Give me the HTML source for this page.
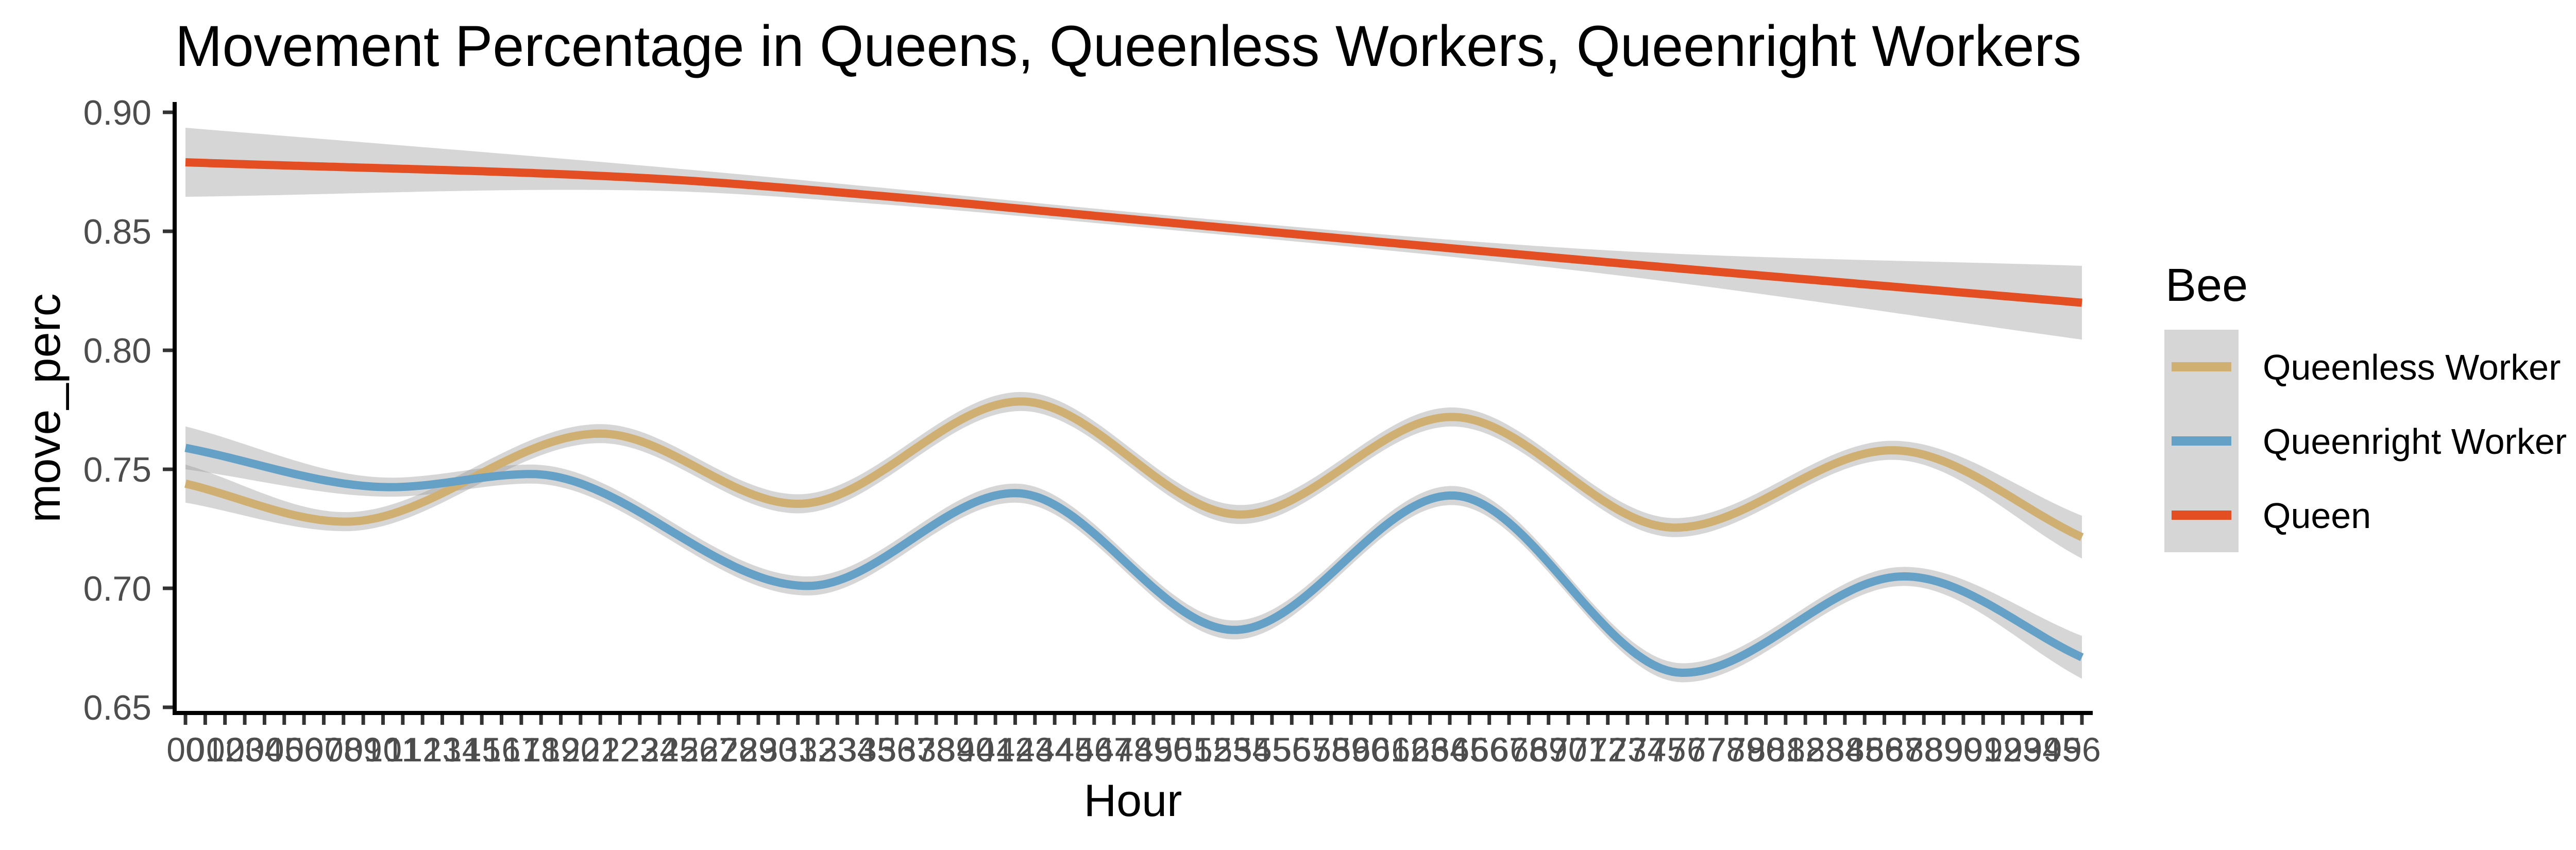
<!DOCTYPE html>
<html><head><meta charset="utf-8"><style>
html,body{margin:0;padding:0;background:#fff;}
svg{display:block;font-family:"Liberation Sans",Arial,sans-serif;}
</style></head><body>
<svg id="chart" width="5100" height="1650" viewBox="0 0 5100 1650" xmlns="http://www.w3.org/2000/svg">
<rect width="5100" height="1650" fill="#fff"/>
<text x="340" y="128" font-size="112" fill="#000" textLength="3700" lengthAdjust="spacingAndGlyphs">Movement Percentage in Queens, Queenless Workers, Queenright Workers</text>
<g id="ribbons"></g>
<g id="lines"></g>
<g id="yaxis"></g>
<g id="xaxis"></g>
<text transform="translate(116,792) rotate(-90)" text-anchor="middle" font-size="90" fill="#000">move_perc</text>
<text x="2199" y="1584" text-anchor="middle" font-size="88" fill="#000">Hour</text>
<g>
<text x="4203" y="584" font-size="90" fill="#000">Bee</text>
<rect x="4201" y="640" width="144" height="432" fill="#d6d6d6"/>
<rect x="4215" y="703" width="116" height="18" fill="#CFAF72"/>
<rect x="4215" y="847" width="116" height="18" fill="#65A0C7"/>
<rect x="4215" y="991" width="116" height="18" fill="#E44E23"/>
<text x="4392" y="737" font-size="70" fill="#000">Queenless Worker</text>
<text x="4392" y="881" font-size="70" fill="#000">Queenright Worker</text>
<text x="4392" y="1025" font-size="70" fill="#000">Queen</text>
</g>
</svg>
<script>
const yTicks = [0.65, 0.70, 0.75, 0.80, 0.85, 0.90];
const hourCount = 97;
const queenHours = [0, 24, 35, 48, 72, 96];
const queenValues = [0.879, 0.872, 0.865, 0.855, 0.837, 0.820];
const queenSE = [0.0145, 0.005, 0.0035, 0.003, 0.005, 0.0155];
const queenlessHours = [0, 8.1, 21, 31, 42.3, 53.4, 64.1, 75.4, 86.4, 96];
const queenlessValues = [0.744, 0.728, 0.765, 0.7355, 0.7785, 0.731, 0.772, 0.7255, 0.758, 0.7215];
const queenlessSE = [0.008, 0.004, 0.004, 0.004, 0.004, 0.004, 0.004, 0.004, 0.004, 0.009];
const queenrightHours = [0, 10.4, 17.5, 31.5, 42, 53.1, 64.1, 75.8, 87, 96];
const queenrightValues = [0.759, 0.7425, 0.748, 0.701, 0.740, 0.6825, 0.739, 0.6645, 0.705, 0.671];
const queenrightSE = [0.009, 0.004, 0.004, 0.004, 0.004, 0.004, 0.004, 0.004, 0.004, 0.009];

const NS = "http://www.w3.org/2000/svg";
const X0 = 360, X1 = 4041, Y90 = 218, Y65 = 1373;
const xScale = h => X0 + (X1 - X0) * h / 96;
const yScale = v => Y65 + (v - 0.65) / 0.25 * (Y90 - Y65);

function mono(xs, ys) {
  const n = xs.length, d = [], m = [];
  for (let i = 0; i < n - 1; i++) d.push((ys[i+1]-ys[i])/(xs[i+1]-xs[i]));
  m[0] = d[0]; m[n-1] = d[n-2];
  for (let i = 1; i < n - 1; i++) m[i] = (d[i-1]*d[i] <= 0) ? 0 : (d[i-1]+d[i])/2;
  return t => {
    let i = 0; while (i < n - 2 && t > xs[i+1]) i++;
    const h = xs[i+1]-xs[i], s = (t - xs[i]) / h;
    const h00 = 2*s*s*s-3*s*s+1, h10 = s*s*s-2*s*s+s, h01 = -2*s*s*s+3*s*s, h11 = s*s*s-s*s;
    return h00*ys[i] + h10*h*m[i] + h01*ys[i+1] + h11*h*m[i+1];
  };
}
function el(tag, attrs, parent) {
  const e = document.createElementNS(NS, tag);
  for (const k in attrs) e.setAttribute(k, attrs[k]);
  parent.appendChild(e); return e;
}
const series = [
  {name: "queen", hours: queenHours, vals: queenValues, se: queenSE, color: "#E44E23"},
  {name: "queenless-worker", hours: queenlessHours, vals: queenlessValues, se: queenlessSE, color: "#CFAF72"},
  {name: "queenright-worker", hours: queenrightHours, vals: queenrightValues, se: queenrightSE, color: "#65A0C7"}
];
const rib = document.getElementById("ribbons"), lin = document.getElementById("lines");
series.forEach(s => {
  const f = mono(s.hours, s.vals), g = mono(s.hours, s.se);
  const up = [], lo = [], mid = [];
  for (let t = 0; t <= 96.0001; t += 0.25) {
    const v = f(t), e = g(t);
    mid.push(xScale(t).toFixed(1) + "," + yScale(v).toFixed(1));
    up.push(xScale(t).toFixed(1) + "," + yScale(v + e).toFixed(1));
    lo.unshift(xScale(t).toFixed(1) + "," + yScale(v - e).toFixed(1));
  }
  const r = el("polygon", {points: up.concat(lo).join(" "), fill: "#999999", "fill-opacity": "0.4"}, rib);
  
  
  const l = el("polyline", {points: mid.join(" "), fill: "none", stroke: s.color, "stroke-width": "16", "stroke-linejoin": "round"}, lin);
  
  
});
const ya = document.getElementById("yaxis");
yTicks.forEach(v => {
  const y = yScale(v);
  const tk = el("line", {x1: 316, x2: 339, y1: y, y2: y, stroke: "#333", "stroke-width": "7"}, ya);
  
  
  const tx = el("text", {x: 294, y: y + 24, "text-anchor": "end", "font-size": "68", fill: "#4d4d4d"}, ya);
  tx.textContent = v.toFixed(2);
  
  
});
const yl = el("line", {x1: 339, x2: 339, y1: 198, y2: 1388, stroke: "#000", "stroke-width": "8"}, ya);


const xa = document.getElementById("xaxis");
for (let i = 0; i < hourCount; i++) {
  const x = xScale(i);
  const tk = el("line", {x1: x, x2: x, y1: 1384, y2: 1407, stroke: "#333", "stroke-width": "7"}, xa);
  
  
  const tx = el("text", {x: x, y: 1478, "text-anchor": "middle", "font-size": "66", fill: "#4d4d4d"}, xa);
  tx.textContent = String(i).padStart(2, "0");
  
  
}
const xl = el("line", {x1: 335, x2: 4062, y1: 1384, y2: 1384, stroke: "#000", "stroke-width": "8"}, xa);


</script>
</body></html>
